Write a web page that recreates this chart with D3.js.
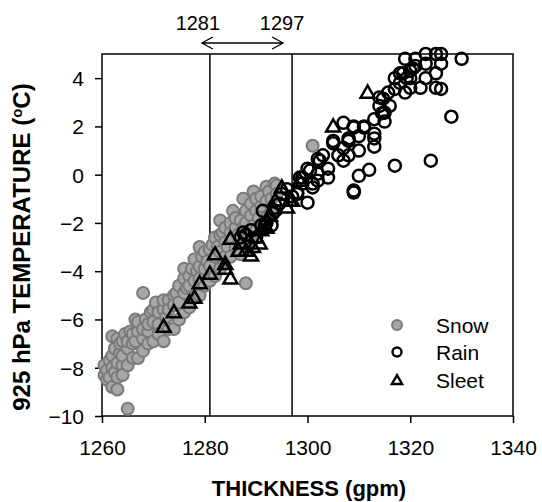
<!DOCTYPE html>
<html>
<head>
<meta charset="utf-8">
<script src="https://cdn.jsdelivr.net/npm/d3@7"></script>
<style>
  body { margin: 0; background: #fff; }
  text { font-family: "Liberation Sans", Arial, sans-serif; }
</style>
</head>
<body>
<div id="chart"></div>
<script>
// [thickness (gpm), 925 hPa temperature (C)]
const snow = [
  [1260.5, -8.3], [1260.5, -7.9], [1261, -8.5], [1261, -8.1], [1261.5, -7.7], [1261.5, -8.4],
  [1262, -8.0], [1262, -7.5], [1262, -8.8], [1262, -6.7], [1262.5, -7.2], [1262.5, -8.2],
  [1263, -7.8], [1263, -6.8], [1263, -8.4], [1263, -8.9], [1263.5, -7.4], [1263.5, -7.0],
  [1264, -7.9], [1264, -6.9], [1264, -7.5], [1264, -8.3], [1264.5, -6.6], [1265, -7.2],
  [1265, -6.9], [1265, -7.9], [1265, -9.7], [1265.5, -6.5], [1266, -7.0], [1266, -6.6],
  [1266, -7.6], [1266.5, -6.9], [1266.5, -6.0], [1267, -6.5], [1267, -6.1], [1267, -7.6],
  [1268, -6.8], [1268, -6.4], [1268, -7.3], [1268, -4.9], [1268.5, -6.0], [1269, -6.5],
  [1269, -6.2], [1269, -7.0], [1269.5, -5.7], [1270, -6.1], [1270, -5.6], [1270, -6.9],
  [1270.5, -5.3], [1271, -5.7], [1271, -6.2], [1271, -6.6], [1272, -5.6], [1272, -5.2],
  [1272, -6.9], [1272.5, -5.9], [1273, -5.2], [1273, -5.6], [1273, -6.4], [1274, -5.0],
  [1274, -5.4], [1274, -6.4], [1274.5, -4.9], [1275, -5.3], [1275, -4.6], [1275, -6.0],
  [1276, -4.9], [1276, -4.3], [1276, -5.7], [1276, -3.9], [1276.5, -4.7], [1277, -4.2],
  [1277, -4.6], [1277, -5.5], [1277.5, -3.9], [1278, -4.4], [1278, -3.5], [1278, -5.1],
  [1278.5, -4.0], [1279, -3.8], [1279, -4.3], [1279, -5.0], [1279, -3.0], [1279.5, -3.4],
  [1280, -3.9], [1280, -3.2], [1280, -4.6], [1280.5, -3.6], [1281, -3.1], [1281, -3.8],
  [1281, -4.4], [1281.5, -2.9], [1282, -3.4], [1282, -2.6], [1282, -4.2], [1282.5, -3.0],
  [1283, -2.5], [1283, -3.2], [1283, -3.9], [1283, -1.9], [1283.5, -2.4], [1284, -2.8],
  [1284, -2.2], [1284, -3.4], [1284.5, -3.0], [1285, -2.4], [1285, -2.0], [1285, -3.4],
  [1285.5, -2.7], [1285.5, -1.5], [1286, -2.2], [1286, -1.8], [1286, -3.0], [1286.5, -2.5],
  [1287, -1.9], [1287, -2.6], [1287, -3.3], [1287.5, -2.2], [1287.5, -1.0], [1288, -2.0],
  [1288, -1.5], [1288, -2.9], [1288, -4.5], [1288.5, -2.6], [1289, -1.7], [1289, -1.2],
  [1289, -2.7], [1289.5, -2.1], [1289.5, -0.7], [1290, -1.5], [1290, -1.0], [1290, -2.3],
  [1290.5, -1.8], [1291, -1.3], [1291, -0.9], [1291, -2.1], [1292, -1.1], [1292, -1.8],
  [1292, -0.5], [1292.5, -0.7], [1293, -1.0], [1293, -1.5], [1293.6, -0.37], [1294, -0.45],
  [1294, -0.8], [1301, 1.2]
];

const rain = [
  [1287, -2.6], [1287.5, -2.4], [1288, -2.5], [1289, -2.3], [1290, -2.6], [1291, -2.1],
  [1291.3, -1.5], [1291.7, -2.1], [1292, -2.0], [1293, -2.1], [1293.3, -1.6], [1293.7, -1.5],
  [1294.5, -1.2], [1295, -0.8], [1296, -0.6], [1297, -0.9], [1298, -0.74], [1298, -0.8],
  [1298.5, -0.12], [1299, -0.37], [1299, -0.12], [1300, -1.16], [1300, 0.25], [1300.5, 0.17],
  [1301, -0.37], [1301, -0.53], [1302, -0.25], [1302, 0.04], [1302, 0.65], [1302.4, 0.58],
  [1303, 0.8], [1304, 0.25], [1304, -0.12], [1305, 1.4], [1305, 1.3], [1306, 0.8],
  [1307, 1.1], [1307, 2.15], [1307, 0.58], [1308, 1.4], [1308, 1.5], [1308, 0.8],
  [1309, 1.95], [1309, 2.0], [1309, -0.74], [1309, -0.66], [1310, 1.0], [1310, 1.6],
  [1310, -0.05], [1311, 1.95], [1311, 2.0], [1312, 0.2], [1313, 1.16], [1313, 1.5],
  [1313, 1.7], [1313, 2.3], [1314, 2.85], [1314, 3.2], [1314.5, 2.55], [1314.7, 3.15],
  [1315, 2.2], [1315, 2.57], [1315.7, 3.4], [1316, 2.85], [1317, 4.0], [1317, 3.55],
  [1317, 0.37], [1318, 3.8], [1318, 4.2], [1318.6, 4.2], [1319, 3.4], [1319, 4.8],
  [1319.3, 4.0], [1320, 4.3], [1320, 4.0], [1320, 3.6], [1320.5, 4.4], [1321, 4.8],
  [1321, 4.5], [1322, 3.6], [1323, 4.0], [1323, 5.0], [1323, 4.6], [1324, 0.58],
  [1325, 4.2], [1325, 3.6], [1325, 5.0], [1326, 5.0], [1326, 4.6], [1326, 3.55],
  [1328, 2.4], [1330, 4.8]
];

const sleet = [
  [1272, -6.3], [1274, -5.7], [1277, -5.3], [1278, -5.1], [1279, -4.5], [1281, -4.1],
  [1282, -3.3], [1284, -3.7], [1284, -3.9], [1285, -4.3], [1285, -2.65], [1286.6, -3.15],
  [1287, -2.85], [1288, -3.15], [1289, -3.35], [1289.4, -3.0], [1290, -2.6], [1290.7, -2.85],
  [1291, -2.3], [1292, -2.2], [1292.7, -1.7], [1293.3, -1.4], [1293.7, -1.07], [1295, -0.53],
  [1296, -1.36], [1296.6, -1.08], [1297, -1.08], [1298.5, -0.25], [1305, 2.0], [1311.7, 3.4]
];

const xTicks = [1260, 1280, 1300, 1320, 1340];
const yTicks = [-10, -8, -6, -4, -2, 0, 2, 4];
const thresholds = [1281, 1297];
const legendItems = ['Snow', 'Rain', 'Sleet'];

const width = 542;
const height = 502;
const margin = { top: 54, right: 29, bottom: 86, left: 102 };

const x = d3.scaleLinear()
  .domain([1260, 1340])
  .range([margin.left, width - margin.right]);

const y = d3.scaleLinear()
  .domain([-10, 5])
  .range([height - margin.bottom, margin.top]);

const svg = d3.select('#chart')
  .append('svg')
  .attr('width', width)
  .attr('height', height);

const fontSize = 21;
const formatAxis = d3.format('d');

// axes
const xAxis = svg.append('g')
  .attr('transform', `translate(0, ${y(-10)})`)
  .call(d3.axisBottom(x).tickValues(xTicks).tickFormat(formatAxis)
    .tickSize(7).tickSizeOuter(0).tickPadding(17));

const yAxis = svg.append('g')
  .attr('transform', `translate(${x(1260)}, 0)`)
  .call(d3.axisLeft(y).tickValues(yTicks).tickFormat(formatAxis)
    .tickSize(7).tickSizeOuter(0).tickPadding(11));

[xAxis, yAxis].forEach((g) => {
  g.select('.domain').remove();
  g.selectAll('line').attr('stroke', '#000').attr('stroke-width', 1.5);
  g.selectAll('text')
    .attr('fill', '#000')
    .style('font-size', `${fontSize}px`)
    .style('font-family', '"Liberation Sans", Arial, sans-serif');
});
yAxis.selectAll('text').attr('dy', '0.35em');

// frame
svg.append('rect')
  .attr('x', x(1260))
  .attr('y', y(5))
  .attr('width', x(1340) - x(1260))
  .attr('height', y(-10) - y(5))
  .attr('fill', 'none')
  .attr('stroke', '#000')
  .attr('stroke-width', 1.5);

// threshold lines
svg.selectAll('.thr')
  .data(thresholds)
  .enter()
  .append('line')
  .attr('x1', d => x(d))
  .attr('x2', d => x(d))
  .attr('y1', y(5))
  .attr('y2', y(-10))
  .attr('stroke', '#000')
  .attr('stroke-width', 1.5);

svg.selectAll('.thrLabel')
  .data(thresholds)
  .enter()
  .append('text')
  .attr('x', (d, i) => x(d) + (i === 0 ? -12 : -10))
  .attr('y', 30)
  .attr('text-anchor', 'middle')
  .style('font-size', '20px')
  .text(d => d);

// double arrow
const ay = 43;
const ax1 = x(thresholds[0]) - 8;
const ax2 = x(thresholds[1]) - 9;
svg.append('path')
  .attr('d', `M${ax1},${ay}H${ax2}M${ax1 + 11},${ay - 6}L${ax1},${ay}L${ax1 + 11},${ay + 6}`
    + `M${ax2 - 11},${ay - 6}L${ax2},${ay}L${ax2 - 11},${ay + 6}`)
  .attr('fill', 'none')
  .attr('stroke', '#000')
  .attr('stroke-width', 1.3);

// points
const r = 6;
svg.append('g')
  .selectAll('circle')
  .data(snow)
  .enter()
  .append('circle')
  .attr('cx', d => x(d[0]))
  .attr('cy', d => y(d[1]))
  .attr('r', r)
  .attr('fill', '#a6a6a6')
  .attr('stroke', '#7a7a7a')
  .attr('stroke-width', 2);

svg.append('g')
  .selectAll('circle')
  .data(rain)
  .enter()
  .append('circle')
  .attr('cx', d => x(d[0]))
  .attr('cy', d => y(d[1]))
  .attr('r', r)
  .attr('fill', 'none')
  .attr('stroke', '#000')
  .attr('stroke-width', 2.5);

const tri = d3.symbol().type(d3.symbolTriangle).size(85);
svg.append('g')
  .selectAll('path')
  .data(sleet)
  .enter()
  .append('path')
  .attr('d', tri)
  .attr('transform', d => `translate(${x(d[0])}, ${y(d[1]) + 1})`)
  .attr('fill', 'none')
  .attr('stroke', '#000')
  .attr('stroke-width', 2.5);

// legend
const legend = svg.append('g');
const lx = 397;
const ly = [325, 352, 380];
legend.append('circle').attr('cx', lx).attr('cy', ly[0]).attr('r', 5)
  .attr('fill', '#a6a6a6').attr('stroke', '#7a7a7a').attr('stroke-width', 2);
legend.append('circle').attr('cx', lx).attr('cy', ly[1]).attr('r', 4.5)
  .attr('fill', 'none').attr('stroke', '#000').attr('stroke-width', 2.4);
legend.append('path').attr('d', d3.symbol().type(d3.symbolTriangle).size(45))
  .attr('transform', `translate(${lx}, ${ly[2] + 1})`)
  .attr('fill', 'none').attr('stroke', '#000').attr('stroke-width', 2.4);
legend.selectAll('text')
  .data(legendItems)
  .enter()
  .append('text')
  .attr('x', 436)
  .attr('y', (d, i) => ly[i] + 8)
  .style('font-size', `${fontSize}px`)
  .text(d => d);

// axis titles
svg.append('text')
  .attr('x', 309)
  .attr('y', 496)
  .attr('text-anchor', 'middle')
  .style('font-size', '22px')
  .style('font-weight', 'bold')
  .text('THICKNESS (gpm)');

const yTitle = svg.append('text')
  .attr('transform', `translate(30, ${y(-3.0)}) rotate(-90)`)
  .attr('text-anchor', 'middle')
  .style('font-size', '24px')
  .style('font-weight', 'bold');
yTitle.append('tspan').text('925 hPa TEMPERATURE (');
yTitle.append('tspan').attr('dy', -8).style('font-size', '15px').text('o');
yTitle.append('tspan').attr('dy', 8).text('C)');
</script>
</body>
</html>
